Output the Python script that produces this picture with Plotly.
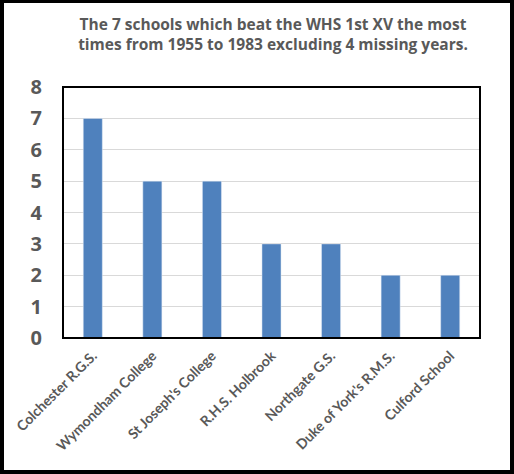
import plotly.graph_objects as go

schools = ["Colchester R.G.S.", "Wymondham College", "St Joseph's College",
           "R.H.S. Holbrook", "Northgate G.S.", "Duke of York's R.M.S.", "Culford School"]
wins = [7, 5, 5, 3, 3, 2, 2]
y_ticks = [0, 1, 2, 3, 4, 5, 6, 7, 8]

W, H = 514, 474
ml, mr, mt, mb = 63, 34, 87, 136
pw, ph = W - ml - mr, H - mt - mb

def px(x):
    return (x - ml) / pw

def py(y):
    return (H - mb - y) / ph

fig = go.Figure(go.Bar(x=schools, y=wins, marker_color="#4f81bd", width=0.32))

shapes = []
# outer black frame
for x0, y0, x1, y1 in [(0, 0, 4, H), (510, 0, W, H), (0, 0, W, 3), (0, 470, W, H)]:
    shapes.append(dict(type="rect", xref="paper", yref="paper",
                       x0=px(x0), x1=px(x1), y0=py(y1), y1=py(y0),
                       fillcolor="black", line_width=0, layer="above"))
# plot frame
shapes.append(dict(type="rect", xref="paper", yref="paper", x0=0, x1=1, y0=0, y1=1,
                   line=dict(color="black", width=2), layer="above"))

fig.update_layout(
    width=W, height=H,
    margin=dict(l=ml, r=mr, t=mt, b=mb, autoexpand=False),
    paper_bgcolor="white", plot_bgcolor="white",
    showlegend=False,
    title=dict(text="The 7 schools which beat the WHS 1st XV the most<br>times from 1955 to 1983 excluding 4 missing years.",
               x=273 / W, xanchor="center", y=1 - 30 / H, yanchor="middle",
               font=dict(family="Open Sans", size=15.5, color="#595959", weight="bold")),
    shapes=shapes,
    bargap=0.68,
)
fig.update_xaxes(tickangle=-45, showgrid=False, showline=False, ticks="", automargin=False,
                 ticklabelstandoff=6,
                 tickfont=dict(family="Lato", size=14, color="#595959", weight="bold"))
fig.update_yaxes(range=[0, 8], tickvals=y_ticks, showgrid=True, gridcolor="#d9d9d9",
                 zeroline=False, showline=False, ticks="", ticklabelstandoff=20, automargin=False,
                 tickfont=dict(family="Open Sans", size=20, color="#595959", weight="bold"))

fig.write_html("out.html", config={"displayModeBar": False},
               post_script="document.body.style.margin='0';document.body.style.overflow='hidden';")
